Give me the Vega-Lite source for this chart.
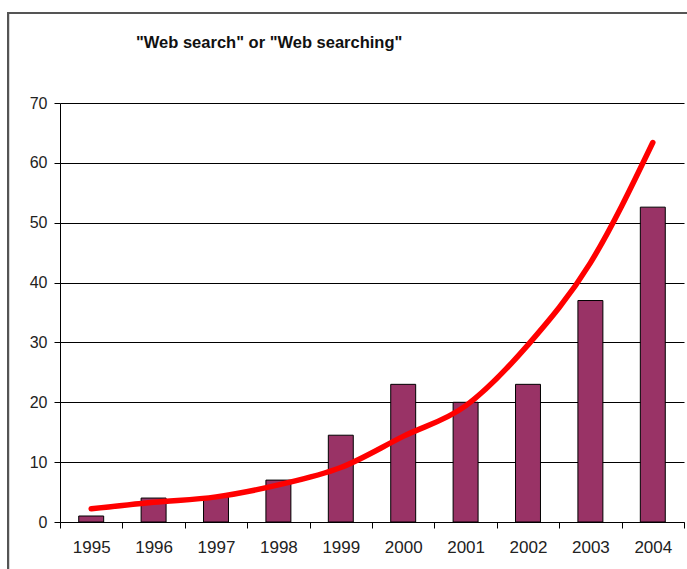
{
  "$schema": "https://vega.github.io/schema/vega-lite/v6.json",
  "width": 624,
  "height": 419,
  "autosize": {"type": "none"},
  "padding": {"left": 60, "top": 103, "right": 3, "bottom": 47},
  "background": "white",
  "title": {
    "text": "\"Web search\" or \"Web searching\"",
    "frame": "group",
    "anchor": "start",
    "dx": 76,
    "offset": -52,
    "baseline": "alphabetic",
    "font": "Liberation Sans",
    "fontSize": 16.5,
    "fontWeight": "bold",
    "color": "#111"
  },
  "config": {
    "view": {"stroke": null},
    "axis": {
      "labelFont": "Liberation Sans",
      "labelColor": "#222",
      "domainColor": "black",
      "tickColor": "black",
      "gridColor": "black",
      "domainWidth": 1,
      "tickWidth": 1,
      "gridWidth": 1,
      "tickSize": 6
    }
  },
  "data": {
    "values": [
      {"year": "1995", "count": 1, "trend": 2.2},
      {"year": "1996", "count": 4, "trend": 3.3},
      {"year": "1997", "count": 4.2, "trend": 4.2},
      {"year": "1998", "count": 7, "trend": 6.2},
      {"year": "1999", "count": 14.5, "trend": 9.1},
      {"year": "2000", "count": 23, "trend": 14.3},
      {"year": "2001", "count": 20, "trend": 19.4},
      {"year": "2002", "count": 23, "trend": 29.6},
      {"year": "2003", "count": 37, "trend": 43.3},
      {"year": "2004", "count": 52.6, "trend": 63.4}
    ]
  },
  "layer": [
    {
      "layer": [
        {
          "mark": {"type": "bar", "width": {"band": 0.4}, "color": "#993366", "stroke": "black", "strokeWidth": 1},
          "encoding": {
            "x": {
              "field": "year", "type": "ordinal",
              "scale": {"paddingInner": 0, "paddingOuter": 0},
              "axis": {"title": null, "labelAngle": 0, "tickBand": "extent", "labelFontSize": 17, "labelPadding": 11, "grid": false}
            },
            "y": {
              "field": "count", "type": "quantitative",
              "scale": {"domain": [0, 70], "nice": false},
              "axis": {"title": null, "values": [0, 10, 20, 30, 40, 50, 60, 70], "gridValues": [10, 20, 30, 40, 50, 60], "grid": true, "labelFontSize": 16, "labelPadding": 7}
            }
          }
        },
        {
          "mark": {"type": "line", "color": "red", "strokeWidth": 5.5, "interpolate": "monotone", "strokeCap": "round"},
          "encoding": {
            "x": {"field": "year", "type": "ordinal"},
            "y": {"field": "trend", "type": "quantitative"}
          }
        }
      ]
    },
    {
      "mark": {"type": "rect", "fill": null, "stroke": "#555", "strokeWidth": 2, "clip": false},
      "encoding": {
        "x": {"datum": -0.0833, "type": "quantitative", "scale": {"domain": [0, 1], "nice": false, "zero": false}, "axis": null},
        "x2": {"datum": 1.05},
        "y": {"datum": 85.03, "type": "quantitative"},
        "y2": {"datum": -12}
      }
    }
  ],
  "resolve": {"scale": {"x": "independent"}}
}
